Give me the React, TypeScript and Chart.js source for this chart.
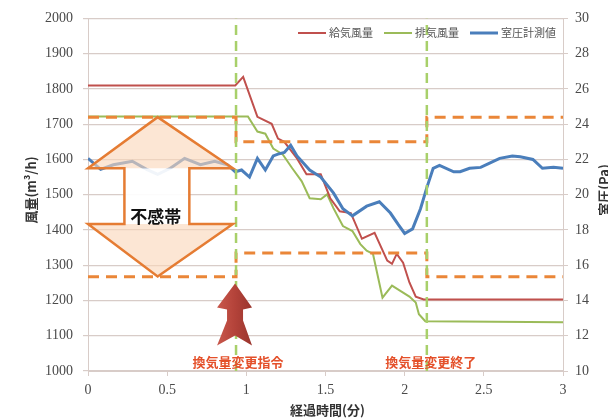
import React, { useEffect, useRef } from "react";
import { Chart, registerables } from "chart.js";
Chart.register(...registerables);

// ---- data ----
const xTicks = [0, 0.5, 1, 1.5, 2, 2.5, 3];
const flowTicks = [1000, 1100, 1200, 1300, 1400, 1500, 1600, 1700, 1800, 1900, 2000];
const pressureTicks = [10, 12, 14, 16, 18, 20, 22, 24, 26, 28, 30];

const seriesNames = ["給気風量", "排気風量", "室圧計測値"];

const supplyT = [0, 0.93, 0.98, 1.07, 1.16, 1.2, 1.24, 1.32, 1.38, 1.47, 1.53, 1.59, 1.66, 1.73, 1.81, 1.89, 1.92, 1.95, 1.99, 2.03, 2.07, 2.12, 3];
const supplyV = [1810, 1810, 1834, 1721, 1701, 1659, 1650, 1603, 1558, 1558, 1490, 1453, 1448, 1375, 1392, 1313, 1304, 1332, 1307, 1251, 1211, 1203, 1203];

const exhaustT = [0, 0.93, 1.01, 1.07, 1.12, 1.17, 1.23, 1.29, 1.35, 1.4, 1.47, 1.51, 1.55, 1.61, 1.67, 1.72, 1.76, 1.8, 1.86, 1.92, 1.97, 2.03, 2.07, 2.09, 2.13, 3];
const exhaustV = [1722, 1722, 1722, 1679, 1673, 1631, 1614, 1575, 1538, 1490, 1487, 1501, 1462, 1411, 1397, 1360, 1341, 1332, 1208, 1242, 1228, 1211, 1194, 1161, 1141, 1138];

const pressureT = [0, 0.08, 0.16, 0.28, 0.37, 0.44, 0.52, 0.61, 0.71, 0.8, 0.88, 0.93, 0.97, 1.02, 1.07, 1.12, 1.17, 1.2, 1.24, 1.28, 1.32, 1.4, 1.47, 1.55, 1.61, 1.67, 1.76, 1.84, 1.91, 1.96, 2.0, 2.05, 2.1, 2.14, 2.18, 2.22, 2.31, 2.35, 2.41, 2.48, 2.54, 2.6, 2.68, 2.73, 2.81, 2.87, 2.94, 3];
const pressureV = [22.06, 21.44, 21.7, 21.9, 21.44, 21.15, 21.5, 22.06, 21.7, 21.9, 21.7, 21.3, 21.4, 21.0, 22.06, 21.4, 22.2, 22.3, 22.4, 22.8, 22.2, 21.4, 21.0, 20.1, 19.2, 18.8, 19.35, 19.6, 18.96, 18.3, 17.8, 18.06, 19.2, 20.4, 21.5, 21.66, 21.3, 21.3, 21.5, 21.55, 21.8, 22.06, 22.2, 22.15, 22.0, 21.5, 21.55, 21.5];

const bandT = [0, 0.935, 0.935, 2.14, 2.14, 3];
const bandUpper = [24.4, 24.4, 23.0, 23.0, 24.4, 24.4];
const bandLower = [15.35, 15.35, 16.7, 16.7, 15.35, 15.35];

const eventT = [0.935, 2.14];
const eventLabels = ["換気量変更指令", "換気量変更終了"];
const deadBandLabel = "不感帯";
const axisTitles = { x: "経過時間(分)", y: "風量(m³/h)", y2: "室圧(Pa)" };

// dead-band arrow (in data units of x / left axis)
const arrowXs = [0, 0.23, 0.44, 0.64, 0.915];
const arrowYs = [1720, 1575, 1417, 1268];

const COLORS = { supply: "#c0504d", exhaust: "#9bbb59", pressure: "#4a7ebb", band: "#ea8638", event: "#a8d06a" };
const GRID = "#d8ccc8";
const TICKCOL = "#4a4a4a";
const SERIF = "'Liberation Serif', 'DejaVu Serif', 'Times New Roman', serif";
const JP = "'Noto Sans CJK JP', 'Noto Sans', sans-serif";

Chart.defaults.font.family = SERIF;

const pts = (t: number[], v: number[]) => t.map((x, i) => ({ x, y: v[i] }));

const overlay = {
  id: "overlay",
  afterDatasetsDraw(chart: any) {
    const ctx = chart.ctx;
    const xs = chart.scales.x;
    const ys = chart.scales.y;
    const X = (v: number) => xs.getPixelForValue(v);
    const Y = (v: number) => ys.getPixelForValue(v);
    const [ax0, ax1, ax2, ax3, ax4] = arrowXs;
    const [ay0, ay1, ay2, ay3] = arrowYs;
    ctx.save();
    // shaft (white)
    ctx.fillStyle = "rgba(255,255,255,0.92)";
    ctx.fillRect(X(ax1), Y(ay1), X(ax3) - X(ax1), Y(ay2) - Y(ay1));
    // triangles
    ctx.fillStyle = "rgba(250,214,186,0.62)";
    ctx.beginPath();
    ctx.moveTo(X(ax0), Y(ay1));
    ctx.lineTo(X(ax2), Y(ay0));
    ctx.lineTo(X(ax4), Y(ay1));
    ctx.closePath();
    ctx.fill();
    ctx.beginPath();
    ctx.moveTo(X(ax0), Y(ay2));
    ctx.lineTo(X(ax2), Y(ay3));
    ctx.lineTo(X(ax4), Y(ay2));
    ctx.closePath();
    ctx.fill();
    // outline
    ctx.strokeStyle = "#e57c33";
    ctx.lineWidth = 2.5;
    ctx.lineJoin = "miter";
    ctx.beginPath();
    ctx.moveTo(X(ax0), Y(ay1));
    ctx.lineTo(X(ax2), Y(ay0));
    ctx.lineTo(X(ax4), Y(ay1));
    ctx.lineTo(X(ax3), Y(ay1));
    ctx.lineTo(X(ax3), Y(ay2));
    ctx.lineTo(X(ax4), Y(ay2));
    ctx.lineTo(X(ax2), Y(ay3));
    ctx.lineTo(X(ax0), Y(ay2));
    ctx.lineTo(X(ax1), Y(ay2));
    ctx.lineTo(X(ax1), Y(ay1));
    ctx.closePath();
    ctx.stroke();
    // label
    ctx.fillStyle = "#111";
    ctx.font = `bold 17px ${JP}`;
    ctx.textAlign = "center";
    ctx.textBaseline = "middle";
    ctx.fillText(deadBandLabel, X(ax2) - 2, Y(1437));

    // red up arrow at command time
    const cx = X(eventT[0]) - 1;
    const ty = Y(1248);
    const shape = [
      [0, 0], [17, 24], [8, 26], [8, 37], [17, 62], [0, 52], [-18, 62], [-8, 37], [-8, 26], [-18, 24],
    ];
    const grad = ctx.createLinearGradient(cx - 18, 0, cx + 17, 0);
    grad.addColorStop(0, "#c9584c");
    grad.addColorStop(0.5, "#b4433a");
    grad.addColorStop(1, "#9a352d");
    ctx.fillStyle = grad;
    ctx.beginPath();
    shape.forEach(([dx, dy], i) => (i ? ctx.lineTo(cx + dx, ty + dy) : ctx.moveTo(cx + dx, ty + dy)));
    ctx.closePath();
    ctx.fill();

    // event labels
    ctx.fillStyle = "#e4502a";
    ctx.font = `bold 13px ${JP}`;
    ctx.fillText(eventLabels[0], X(eventT[0]) + 2, 362);
    ctx.fillText(eventLabels[1], X(eventT[1]) + 4, 362);
    ctx.restore();
  },
  afterDraw(chart: any) {
    const ctx = chart.ctx;
    ctx.save();
    // legend
    const legend = [
      { name: seriesNames[0], color: COLORS.supply, lw: 2 },
      { name: seriesNames[1], color: COLORS.exhaust, lw: 2 },
      { name: seriesNames[2], color: COLORS.pressure, lw: 3 },
    ];
    ctx.font = `11px ${JP}`;
    ctx.textBaseline = "middle";
    ctx.textAlign = "left";
    let x = 298;
    const y = 33;
    legend.forEach((it) => {
      ctx.strokeStyle = it.color;
      ctx.lineWidth = it.lw;
      ctx.beginPath();
      ctx.moveTo(x, y);
      ctx.lineTo(x + 28, y);
      ctx.stroke();
      x += 31;
      ctx.fillStyle = "#555";
      ctx.fillText(it.name, x, y);
      x += ctx.measureText(it.name).width + 11;
    });
    // axis titles
    ctx.fillStyle = "#333";
    ctx.font = `bold 13px ${JP}`;
    ctx.textAlign = "center";
    ctx.fillText(axisTitles.x, (chart.chartArea.left + chart.chartArea.right) / 2 + 2, 410);
    ctx.save();
    ctx.translate(31, 190);
    ctx.rotate(-Math.PI / 2);
    ctx.fillText(axisTitles.y, 0, 0);
    ctx.restore();
    ctx.save();
    ctx.translate(604, 190);
    ctx.rotate(-Math.PI / 2);
    ctx.fillText(axisTitles.y2, 0, 0);
    ctx.restore();
    ctx.restore();
  },
};

export default function App() {
  const ref = useRef<HTMLCanvasElement>(null);
  useEffect(() => {
    const canvas = ref.current!;
    const tickFont = { family: SERIF, size: 14 };
    const fmt = (v: any) => String(v);
    const chart = new Chart(canvas, {
      type: "line",
      data: {
        datasets: [
          { label: "ev1", data: [{ x: eventT[0], y: 1000 }, { x: eventT[0], y: 2000 }], yAxisID: "y", borderColor: COLORS.event, borderWidth: 2.5, borderDash: [10, 6], order: 0 },
          { label: "ev2", data: [{ x: eventT[1], y: 1000 }, { x: eventT[1], y: 2000 }], yAxisID: "y", borderColor: COLORS.event, borderWidth: 2.5, borderDash: [10, 6], order: 0 },
          { label: "upper", data: pts(bandT, bandUpper), yAxisID: "y2", borderColor: COLORS.band, borderWidth: 3, borderDash: [11, 7], order: 1 },
          { label: "lower", data: pts(bandT, bandLower), yAxisID: "y2", borderColor: COLORS.band, borderWidth: 3, borderDash: [11, 7], order: 1 },
          { label: seriesNames[2], data: pts(pressureT, pressureV), yAxisID: "y2", borderColor: COLORS.pressure, borderWidth: 3, order: 2 },
          { label: seriesNames[0], data: pts(supplyT, supplyV), yAxisID: "y", borderColor: COLORS.supply, borderWidth: 2, order: 3 },
          { label: seriesNames[1], data: pts(exhaustT, exhaustV), yAxisID: "y", borderColor: COLORS.exhaust, borderWidth: 2, order: 4 },
        ] as any,
      },
      options: {
        responsive: false,
        animation: false,
        devicePixelRatio: 1,
        layout: { padding: { top: 16, left: 0, right: 0, bottom: 0 } },
        plugins: { legend: { display: false }, tooltip: { enabled: false } },
        elements: { point: { radius: 0 }, line: { tension: 0, fill: false } },
        scales: {
          x: {
            type: "linear",
            min: 0,
            max: 3,
            afterBuildTicks: (s: any) => { s.ticks = xTicks.map((v) => ({ value: v })); },
            afterFit: (s: any) => { s.height = 49; },
            grid: { drawOnChartArea: false, drawTicks: true, tickLength: 5, color: GRID },
            border: { display: true, color: GRID },
            ticks: { font: tickFont, color: TICKCOL, padding: 6, maxRotation: 0, autoSkip: false, callback: fmt },
          },
          y: {
            type: "linear",
            position: "left",
            min: 1000,
            max: 2000,
            afterBuildTicks: (s: any) => { s.ticks = flowTicks.map((v) => ({ value: v })); },
            afterFit: (s: any) => { s.width = 88; },
            grid: { color: GRID, tickLength: 5, lineWidth: 1.2 },
            border: { display: true, color: GRID },
            ticks: { font: tickFont, color: TICKCOL, padding: 10, callback: fmt },
          },
          y2: {
            type: "linear",
            position: "right",
            min: 10,
            max: 30,
            afterBuildTicks: (s: any) => { s.ticks = pressureTicks.map((v) => ({ value: v })); },
            afterFit: (s: any) => { s.width = 45; },
            grid: { drawOnChartArea: false, color: GRID, tickLength: 5 },
            border: { display: true, color: GRID },
            ticks: { font: tickFont, color: TICKCOL, padding: 7, callback: fmt },
          },
        },
      } as any,
      plugins: [overlay],
    });
    return () => chart.destroy();
  }, []);
  return (
    <div style={{ position: "absolute", left: 0, top: 0, width: 608, height: 420, background: "#fff" }}>
      <canvas ref={ref} width={608} height={420} style={{ display: "block", width: 608, height: 420 }} />
    </div>
  );
}
